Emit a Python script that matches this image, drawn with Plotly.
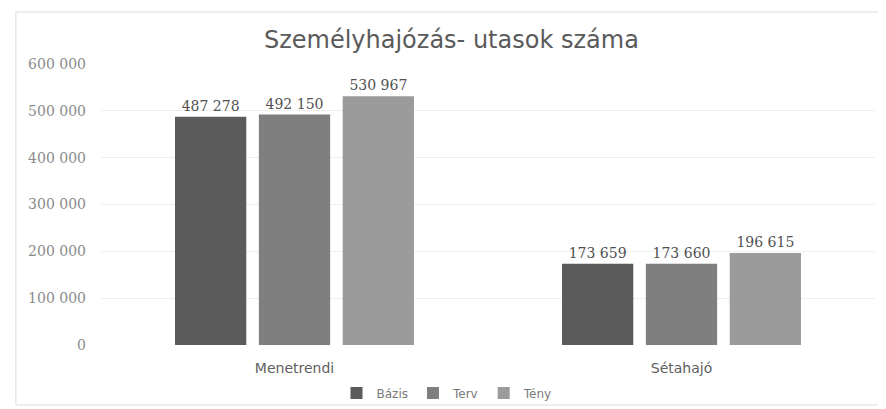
import plotly.graph_objects as go

categories = ["Menetrendi", "Sétahajó"]
series_names = ["Bázis", "Terv", "Tény"]
bazis = [487278, 173659]
terv = [492150, 173660]
teny = [530967, 196615]
tick_vals = [0, 100000, 200000, 300000, 400000, 500000, 600000]
tick_text = ["0", "100 000", "200 000", "300 000", "400 000", "500 000", "600 000"]

colors = ["#5b5b5b", "#7f7f7f", "#9b9b9b"]

def fmt(v):
    return f"{v:,}".replace(",", " ")

fig = go.Figure()
for name, vals, col in zip(series_names, [bazis, terv, teny], colors):
    fig.add_trace(go.Bar(
        name=name, x=categories, y=vals, marker=dict(color=col, line=dict(width=0)),
        text=[fmt(v) for v in vals], textposition="outside", cliponaxis=False,
        textfont=dict(family="DejaVu Serif, serif", size=14, color="#505050"),
    ))

fig.update_layout(
    width=878, height=401,
    margin=dict(l=93, r=11, t=56, b=64),
    paper_bgcolor="white", plot_bgcolor="white",
    barmode="group", bargap=0.35, bargroupgap=0.15,
    title=dict(text="Személyhajózás- utasok száma", x=0.505, xanchor="center",
               y=0.92, yanchor="middle",
               font=dict(family="DejaVu Sans, sans-serif", size=24, color="#5a5a5a")),
    showlegend=True,
    legend=dict(orientation="h", xref="container", yref="container",
                x=0.5, xanchor="center", y=0.04, yanchor="middle",
                bgcolor="rgba(0,0,0,0)",
                font=dict(family="DejaVu Sans, sans-serif", size=12, color="#7a7a7a"),
                itemwidth=30, traceorder="normal"),
    xaxis=dict(showgrid=False, showline=False, ticks="", automargin=False,
               ticklabelstandoff=13,
               tickfont=dict(family="DejaVu Sans, sans-serif", size=14, color="#606060")),
    yaxis=dict(range=[0, 600000], tickvals=tick_vals, ticktext=tick_text,
               showgrid=True, gridcolor="#efefef", gridwidth=1, zeroline=False,
               showline=False, ticklabelstandoff=14, automargin=False,
               tickfont=dict(family="DejaVu Serif, serif", size=14, color="#8a8a8a")),
    shapes=[dict(type="rect", xref="paper", yref="paper", x0=-0.11, x1=1.006,
                 y0=-0.2135, y1=1.185, line=dict(color="#dcdcdc", width=1),
                 fillcolor="rgba(0,0,0,0)", layer="below")],
)

fig.write_html("out.html")
